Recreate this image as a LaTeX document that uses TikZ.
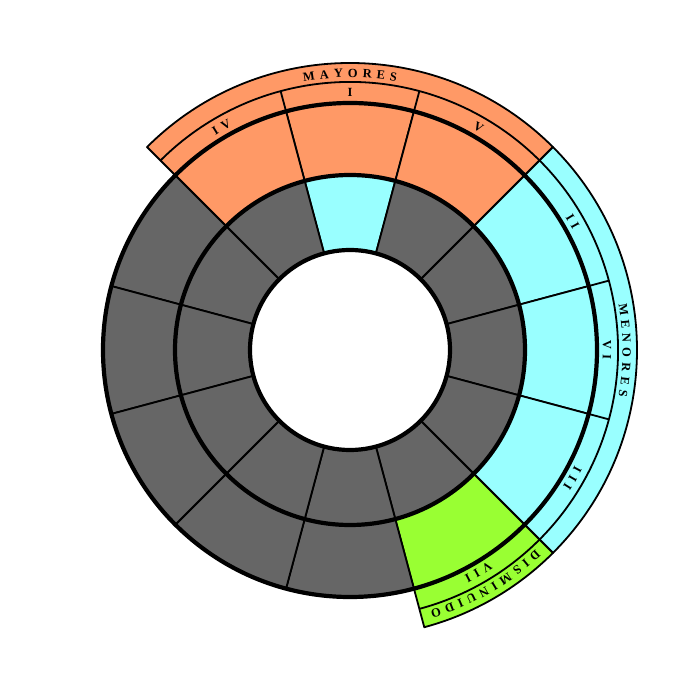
\documentclass[tikz,border=0pt]{standalone}
\usepackage{fontspec}
\newfontfamily\lblfont[WordSpace=1.55]{Liberation Serif Bold}
\usetikzlibrary{decorations.text}
\definecolor{cOr}{RGB}{255,153,102}
\definecolor{cCy}{RGB}{153,255,255}
\definecolor{cGr}{RGB}{153,255,51}
\definecolor{cGy}{RGB}{102,102,102}
\tikzset{
  thinline/.style={line width=1.8pt, line join=round},
  thickline/.style={line width=4.2pt},
  arctext/.style={decorate, decoration={text along path, text align=center, text={|\lblfont\fontsize{12.5}{14}\selectfont|#1}}}
}
\begin{document}
\begin{tikzpicture}[x=1pt,y=1pt]
\useasboundingbox (-350,-350) rectangle (350,350);
\fill[white] (-350,-350) rectangle (350,350);
% label bands
\filldraw[fill=cOr, thinline] (45:247) arc[start angle=45,end angle=135,radius=247] -- (135:287) arc[start angle=135,end angle=45,radius=287] -- cycle;
\filldraw[fill=cCy, thinline] (-45:247) arc[start angle=-45,end angle=45,radius=247] -- (45:287) arc[start angle=45,end angle=-45,radius=287] -- cycle;
\filldraw[fill=cGr, thinline] (-75:247) arc[start angle=-75,end angle=-45,radius=247] -- (-45:287) arc[start angle=-45,end angle=-75,radius=287] -- cycle;
\draw[thinline] (-75:268) arc[start angle=-75,end angle=135,radius=268];
\foreach \a in {105,75,15,-15}
  \draw[thinline] (\a:247) -- (\a:268);
% outer ring sectors
\foreach \c/\col in {90/cOr,120/cOr,60/cOr,30/cCy,0/cCy,-30/cCy,-60/cGr,-90/cGy,-120/cGy,150/cGy,180/cGy,210/cGy}
  \filldraw[fill=\col, thinline] ({\c-15}:175) arc[start angle={\c-15}, end angle={\c+15}, radius=175] -- ({\c+15}:247) arc[start angle={\c+15}, end angle={\c-15}, radius=247] -- cycle;
% middle ring sectors
\foreach \c/\col in {90/cCy,120/cGy,60/cGy,30/cGy,0/cGy,-30/cGy,-60/cGy,-90/cGy,-120/cGy,150/cGy,180/cGy,210/cGy}
  \filldraw[fill=\col, thinline] ({\c-15}:100) arc[start angle={\c-15}, end angle={\c+15}, radius=100] -- ({\c+15}:175) arc[start angle={\c+15}, end angle={\c-15}, radius=175] -- cycle;
% thick circles
\draw[thickline] (0,0) circle[radius=100];
\draw[thickline] (0,0) circle[radius=175];
\draw[thickline] (0,0) circle[radius=247];
% texts
\path[arctext={M A Y O R E S}] (135:272.5) arc[start angle=135,end angle=45,radius=272.5];
\path[arctext={M E N O R E S}] (45:272.5) arc[start angle=45,end angle=-45,radius=272.5];
\path[arctext={D I S M I N U I D O}] (-40:272.5) arc[start angle=-40,end angle=-80,radius=272.5];
\foreach \c/\t in {120/I V,90/I,60/V,30/I I,0/V I,-30/I I I,-60/V I I}
  \path[arctext/.expanded={\t}] ({\c+20}:253) arc[start angle={\c+20}, end angle={\c-20}, radius=253];
\end{tikzpicture}
\end{document}
